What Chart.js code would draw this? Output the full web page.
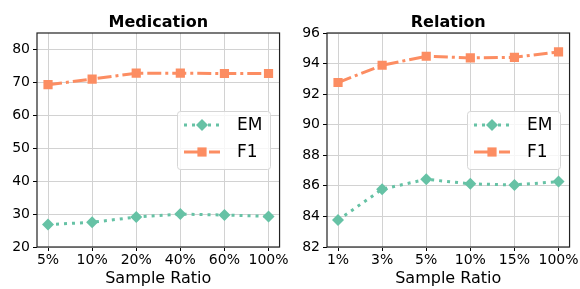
<!DOCTYPE html>
<html>
<head>
<meta charset="utf-8">
<script src="https://cdn.jsdelivr.net/npm/chart.js@4.4.1/dist/chart.umd.min.js"></script>
<style>
  html, body { margin: 0; padding: 0; background: #fff; }
  .row { display: flex; width: 580px; height: 289px; }
  canvas { display: block; }
</style>
</head>
<body>
<div class="row">
  <canvas id="medChart" width="290" height="289"></canvas>
  <canvas id="relChart" width="290" height="289"></canvas>
</div>
<script>
const medLabels = ['5%', '10%', '20%', '40%', '60%', '100%'];
const medEM = [26.8, 27.5, 29.1, 30.0, 29.7, 29.3];
const medF1 = [69.3, 71.0, 72.8, 72.8, 72.7, 72.7];
const medYTicks = [20, 30, 40, 50, 60, 70, 80];

const relLabels = ['1%', '3%', '5%', '10%', '15%', '100%'];
const relEM = [83.76, 85.78, 86.43, 86.13, 86.06, 86.28];
const relF1 = [92.76, 93.89, 94.48, 94.37, 94.41, 94.76];
const relYTicks = [82, 84, 86, 88, 90, 92, 94, 96];

const EM_COLOR = '#66c2a5';
const F1_COLOR = '#fc8d62';
const GRID = '#d2d2d2';
const FONT = "'DejaVu Sans', sans-serif";

function drawMarker(ctx, style, x, y, r) {
    ctx.beginPath();
    if (style === 'rectRot') {
        ctx.moveTo(x, y - r);
        ctx.lineTo(x + r, y);
        ctx.lineTo(x, y + r);
        ctx.lineTo(x - r, y);
    } else {
        const s = r * Math.SQRT1_2;
        ctx.rect(x - s, y - s, 2 * s, 2 * s);
    }
    ctx.closePath();
    ctx.fill();
}

// legend sits inside the plot, like matplotlib's loc='center right'
const insideLegend = {
    id: 'insideLegend',
    afterDatasetsDraw(chart) {
        const { ctx, chartArea } = chart;
        const x0 = chartArea.left + 140, y0 = chartArea.top + 78;
        const w = 93, h = 58;
        ctx.save();
        ctx.fillStyle = 'rgba(255,255,255,0.8)';
        ctx.strokeStyle = '#d6d6d6';
        ctx.lineWidth = 1;
        ctx.beginPath();
        ctx.roundRect(x0 + 0.5, y0 + 0.5, w, h, 3);
        ctx.fill();
        ctx.stroke();
        chart.data.datasets.forEach((ds, i) => {
            const y = y0 + 14 + i * 27;
            ctx.strokeStyle = ds.borderColor;
            ctx.lineWidth = ds.borderWidth;
            ctx.setLineDash(ds.borderDash);
            ctx.beginPath();
            ctx.moveTo(x0 + 7, y);
            ctx.lineTo(x0 + 43, y);
            ctx.stroke();
            ctx.setLineDash([]);
            ctx.fillStyle = ds.pointBackgroundColor;
            drawMarker(ctx, ds.pointStyle, x0 + 25, y, ds.pointRadius);
            ctx.fillStyle = '#000';
            ctx.font = '17px ' + FONT;
            ctx.textBaseline = 'middle';
            ctx.fillText(ds.label, x0 + 60, y + 1);
        });
        ctx.restore();
    }
};

// plot frame plus the panel title, centred over the plot area
const frame = {
    id: 'frame',
    beforeDatasetsDraw(chart, args, opts) {
        const { ctx, chartArea: a } = chart;
        ctx.save();
        ctx.strokeStyle = '#222';
        ctx.lineWidth = 1.2;
        ctx.strokeRect(a.left, a.top, a.right - a.left, a.bottom - a.top);
        ctx.fillStyle = '#000';
        ctx.font = 'bold 16px ' + FONT;
        ctx.textAlign = 'center';
        ctx.textBaseline = 'alphabetic';
        ctx.fillText(opts.text, (a.left + a.right) / 2, 27);
        ctx.restore();
    }
};

function makeChart(canvasId, title, labels, em, f1, yMin, yMax, yTicks) {
    const ctx = document.getElementById(canvasId).getContext('2d');
    return new Chart(ctx, {
        type: 'line',
        data: {
            datasets: [{
                label: 'EM',
                data: em.map((v, i) => ({ x: i, y: v })),
                borderColor: EM_COLOR,
                backgroundColor: EM_COLOR,
                borderWidth: 3,
                borderDash: [3, 5],
                pointStyle: 'rectRot',
                pointRadius: 6,
                pointBackgroundColor: EM_COLOR,
                pointBorderColor: EM_COLOR,
                pointBorderWidth: 0,
            }, {
                label: 'F1',
                data: f1.map((v, i) => ({ x: i, y: v })),
                borderColor: F1_COLOR,
                backgroundColor: F1_COLOR,
                borderWidth: 3,
                borderDash: [14, 4, 3, 4],
                pointStyle: 'rect',
                pointRadius: 6.5,
                pointBackgroundColor: F1_COLOR,
                pointBorderColor: F1_COLOR,
                pointBorderWidth: 0,
            }]
        },
        options: {
            responsive: false,
            animation: false,
            devicePixelRatio: 1,
            layout: { padding: { top: 33, right: 10, bottom: 0, left: 0 } },
            plugins: {
                legend: { display: false },
                tooltip: { enabled: false },
                frame: { text: title },
            },
            scales: {
                x: {
                    type: 'linear',
                    min: -0.25,
                    max: labels.length - 0.75,
                    afterBuildTicks: s => { s.ticks = labels.map((_, i) => ({ value: i })); },
                    afterFit: s => { s.height = 42; },
                    ticks: {
                        callback: v => labels[v],
                        color: '#000',
                        font: { family: FONT, size: 14 },
                        padding: 1,
                        maxRotation: 0,
                        autoSkip: false,
                    },
                    grid: { color: GRID, tickColor: '#000', tickLength: 4 },
                    border: { display: false },
                    title: {
                        display: true,
                        text: 'Sample Ratio',
                        color: '#000',
                        font: { family: FONT, size: 16 },
                        padding: { top: 0, bottom: 1 },
                    },
                },
                y: {
                    min: yMin,
                    max: yMax,
                    afterBuildTicks: s => { s.ticks = yTicks.map(v => ({ value: v })); },
                    afterFit: s => { s.width = 37; },
                    ticks: {
                        color: '#000',
                        font: { family: FONT, size: 14 },
                        padding: 3,
                    },
                    grid: { color: GRID, tickColor: '#000', tickLength: 4 },
                    border: { display: false },
                },
            },
        },
        plugins: [frame, insideLegend],
    });
}

makeChart('medChart', 'Medication', medLabels, medEM, medF1, 20, 85, medYTicks);
makeChart('relChart', 'Relation', relLabels, relEM, relF1, 82, 96, relYTicks);
</script>
</body>
</html>
